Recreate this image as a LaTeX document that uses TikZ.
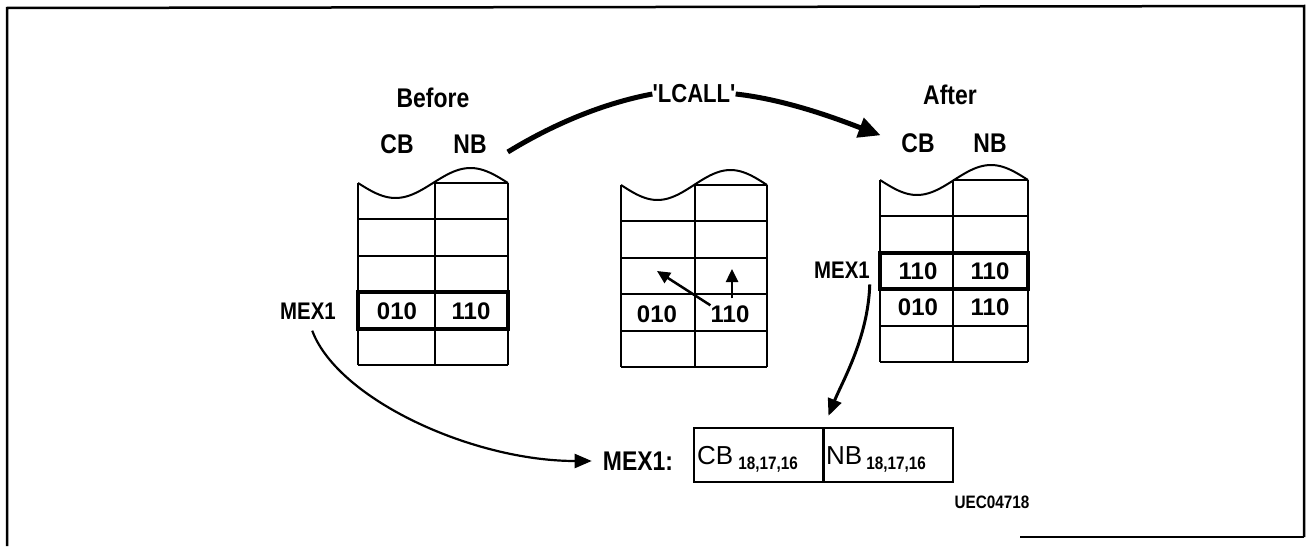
\documentclass[tikz,border=0pt]{standalone}
\usepackage{fontspec}
\setmainfont{Liberation Sans}
\newfontfamily\condf[FakeStretch=0.85]{Liberation Sans}
\usetikzlibrary{arrows.meta}
\newcommand\memstack[4]{% #1 xl, #2 xm, #3 xr, #4 ytop
  \draw[gridline] plot[domain=0:1, samples=50, smooth] ({#1+\x*(#3-#1)}, {#4+15*sin(360*\x)});
  \draw[gridline] (#2,#4) -- (#3,#4);
  \foreach \k in {1,...,5} {\draw[gridline] (#1,{#4+\k*36.4}) -- (#3,{#4+\k*36.4});}
  \draw[gridline] (#1,#4) -- (#1,{#4+5*36.4});
  \draw[gridline] (#2,#4) -- (#2,{#4+5*36.4});
  \draw[gridline] (#3,#4) -- (#3,{#4+5*36.4});
}
\begin{document}
\begin{tikzpicture}[x=1pt,y=-1pt,
  lab/.style={font=\condf\bfseries\fontsize{27}{27}\selectfont, inner sep=0pt},
  mexlab/.style={font=\condf\bfseries\fontsize{24}{24}\selectfont, inner sep=0pt},
  num/.style={font=\bfseries\fontsize{24}{24}\selectfont, inner sep=0pt},
  gridline/.style={line width=2pt},
  thickrow/.style={line width=4pt},
  frameline/.style={line width=2.5pt},
  bigarrow/.style={line width=5pt, -{Triangle[length=22pt,width=20pt]}},
  medarrow/.style={line width=2.5pt, -{Triangle[length=17pt,width=14pt]}},
  smallarrow/.style={line width=2.5pt, -{Triangle[length=13pt,width=12pt]}},
  cellbox/.style={draw, line width=2pt, minimum width=129pt, minimum height=54pt, inner sep=0pt}]
\useasboundingbox (0,0) rectangle (1306,546);

% frame
\draw[frameline] (7,546) -- (7,8) -- (1304,6) -- (1304,537);
\draw[line width=1.5pt] (1020,537) -- (1304,537);

% Before stack
\memstack{358}{435}{508}{183}
\draw[thickrow] (358,292.2) rectangle (508,328.6);
\node[lab] (before) at (433,98) {Before};
\node[lab] (bcb) at (397,144) {CB};
\node[lab] (bnb) at (470,144) {NB};
\node[mexlab] (mexa) at (308,311) {MEX1};
\node[num] (b010) at (397,311) {010};
\node[num] (b110) at (471,311) {110};

% middle stack
\memstack{621}{695}{767}{185}
\node[num] (m010) at (657,314) {010};
\node[num] (m110) at (730,314) {110};
\coordinate (mt1) at (657,271);
\coordinate (mt2) at (732,269);
\draw[smallarrow] (m110.north west) -- (mt1);
\draw[smallarrow, shorten <=7pt] (m110.north) ++(2,0) -- (mt2);

% After stack
\memstack{880}{953}{1028}{180}
\draw[thickrow] (880,252.8) rectangle (1028,289.2);
\node[lab] (after) at (950,95) {After};
\node[lab] (acb) at (918,143) {CB};
\node[lab] (anb) at (990,143) {NB};
\node[mexlab] (mexb) at (842,270) {MEX1};
\node[num] (a110a) at (918,271) {110};
\node[num] (a110b) at (990,271) {110};
\node[num] (a010) at (918,307) {010};
\node[num] (a110c) at (990,307) {110};

% LCALL arrow
\node[font=\condf\bfseries\fontsize{26}{26}\selectfont, inner sep=0pt] (lcall) at (694,94) {'LCALL'};
\draw[line width=5pt] (bnb.east) ++(21,8) .. controls (560,120) and (610,102) .. (lcall.west);
\draw[bigarrow, shorten >=22pt] (lcall.east) .. controls (790,100) and (845,122) .. (acb.west);

% bottom register
\node[lab] (mexc) at (638,461) {MEX1:};
\node[cellbox] (cbcell) at (758.5,455) {};
\node[cellbox] (nbcell) at (888,455) {};
\node[anchor=base west, inner sep=0pt, font=\fontsize{26}{26}\selectfont] (cbt) at (697,464) {CB\hspace{5pt}\raisebox{-5pt}{\condf\bfseries\fontsize{18}{18}\selectfont 18,17,16}};
\node[anchor=base west, inner sep=0pt, font=\fontsize{26}{26}\selectfont] (nbt) at (826,464) {NB\hspace{4pt}\raisebox{-5pt}{\condf\bfseries\fontsize{18}{18}\selectfont 18,17,16}};
\node[font=\condf\bfseries\fontsize{18}{18}\selectfont, inner sep=0pt] (code) at (992,502) {UEC04718};

% MEX1 arrows
\draw[medarrow, line width=2.2pt, shorten <=12pt, shorten >=11pt] (mexa.south) .. controls +(30,80) and +(-130,0) .. (mexc.west);
\draw[medarrow, line width=3pt, shorten <=6pt, shorten >=12pt] (mexb.south east) .. controls +(-2,60) and +(18,-45) .. (cbcell.north east);
\end{tikzpicture}
\end{document}
